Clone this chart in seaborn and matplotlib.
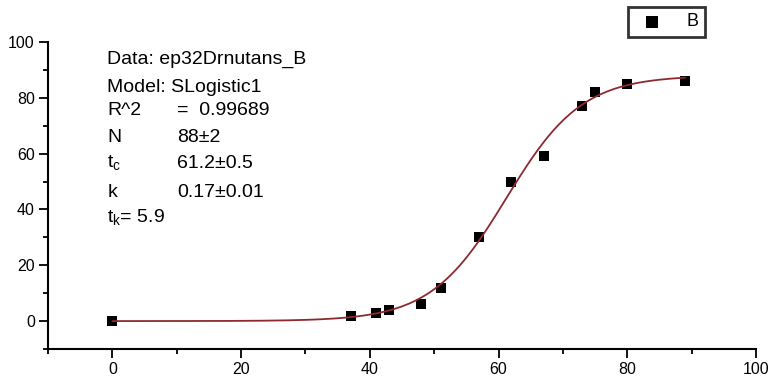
import numpy as np
import pandas as pd
import matplotlib
matplotlib.use("Agg")
import matplotlib.pyplot as plt
from matplotlib.ticker import MultipleLocator
import seaborn as sns

# Data
time_x = [0, 37, 41, 43, 48, 51, 57, 62, 67, 73, 75, 80, 89]
value_y = [0, 2, 3, 4, 6, 12, 30, 50, 59, 77, 82, 85, 86]
series_name = "B"

# Fit parameters shown in the chart (SLogistic1: y = N / (1 + exp(-k (t - tc))))
fit_N = 88.0
fit_tc = 61.2
fit_k = 0.17
fit_range = [0, 89]

x_ticks = [0, 20, 40, 60, 80, 100]
y_ticks = [0, 20, 40, 60, 80, 100]

sns.set_theme(style="white")
plt.rcParams["font.family"] = ["Liberation Sans", "DejaVu Sans"]

fig = plt.figure(figsize=(7.71, 3.79), dpi=100)
ax = fig.add_axes([48 / 771, 1 - 349 / 379, (756 - 48) / 771, (349 - 42) / 379])

df = pd.DataFrame({"t": time_x, "v": value_y})
t_fit = np.linspace(fit_range[0], fit_range[1], 400)
fit_df = pd.DataFrame({"t": t_fit, "v": fit_N / (1 + np.exp(-fit_k * (t_fit - fit_tc)))})

sns.scatterplot(data=df, x="t", y="v", marker="s", s=45, color="black",
                edgecolor="black", linewidth=0, ax=ax, zorder=2, label=series_name)
sns.lineplot(data=fit_df, x="t", y="v", color="#8c2a2f", linewidth=1.3, ax=ax,
             zorder=3, legend=False)

ax.set_xlim(-10, 100)
ax.set_ylim(-10, 100)
ax.set_xticks(x_ticks)
ax.set_yticks(y_ticks)
ax.xaxis.set_minor_locator(MultipleLocator(10))
ax.yaxis.set_minor_locator(MultipleLocator(10))
ax.set_xlabel("")
ax.set_ylabel("")

for side in ["top", "right"]:
    ax.spines[side].set_visible(False)
for side in ["left", "bottom"]:
    ax.spines[side].set_visible(True)
    ax.spines[side].set_color("black")
    ax.spines[side].set_linewidth(1.5)

ax.tick_params(axis="both", which="major", direction="out", length=6.5, width=1.3,
               color="black", labelsize=11.5, labelcolor="black", pad=3,
               bottom=True, left=True)
ax.tick_params(axis="both", which="minor", direction="out", length=3.5, width=1.3,
               color="black", bottom=True, left=True)
ax.grid(False)

# Annotation text block
fs = 14
lines_left = [
    (92.1, "Data: ep32Drnutans_B", None),
    (82.1, "Model: SLogistic1", None),
    (73.9, "R^2", "=  0.99689"),
    (64.3, "N", "88±2"),
    (55.0, r"t$_\mathregular{c}$", "61.2±0.5"),
    (44.3, "k", "0.17±0.01"),
]
for yv, left, right in lines_left:
    ax.text(-0.8, yv, left, fontsize=fs, va="baseline", ha="left", color="black")
    if right is not None:
        ax.text(10.1, yv, right, fontsize=fs, va="baseline", ha="left", color="black")
ax.text(-0.8, 35.4, r"t$_\mathregular{k}$= 5.9", fontsize=fs, va="baseline", ha="left",
        color="black")

# Legend
leg = ax.legend(loc="upper left", bbox_to_anchor=(628 / 771, 1 - 7 / 379),
                bbox_transform=fig.transFigure, frameon=True, fontsize=13,
                labelcolor="black", markerscale=1.35, handletextpad=0.9,
                borderpad=0.35, handlelength=2.0, fancybox=False, borderaxespad=0)
leg.get_frame().set_edgecolor("black")
leg.get_frame().set_linewidth(2)

fig.savefig("out.png", dpi=100)
